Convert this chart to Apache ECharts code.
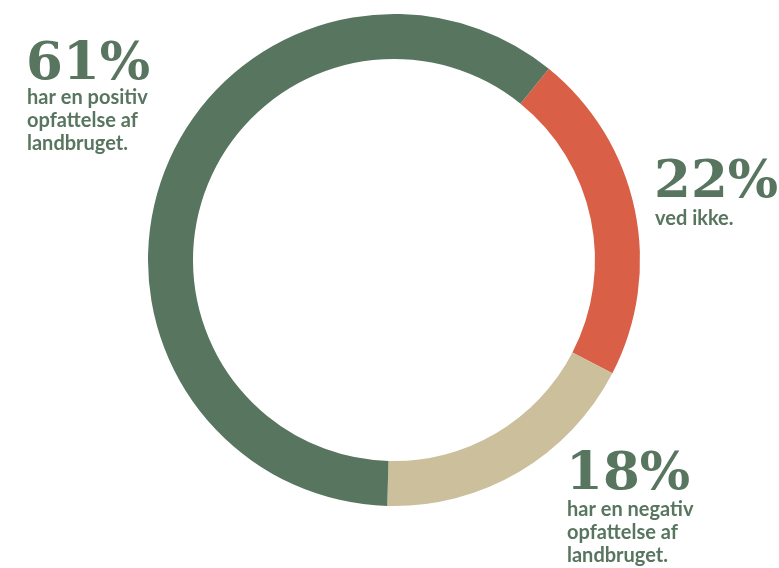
<!DOCTYPE html>
<html>
<head>
<meta charset="utf-8">
<script src="https://cdn.jsdelivr.net/npm/echarts@6/dist/echarts.min.js"></script>
<style>html,body{margin:0;padding:0;background:#fff}#c{width:779px;height:568px}</style>
</head>
<body>
<div id="c"></div>
<script>
var categories = ['ved ikke', 'negativ', 'positiv'];
var values = [22, 18, 61];
var colors = ['#d96047', '#cbbf9c', '#58755f'];
var descriptions = [
  'ved ikke.',
  'har en negativ\nopfattelse af\nlandbruget.',
  'har en positiv\nopfattelse af\nlandbruget.'
];

var chart = echarts.init(document.getElementById('c'));
var textColor = '#58755f';
function block(i, x, numBase, subBase) {
  return [
    { type: 'text', left: x, top: numBase - 43,
      style: { text: values[i] + '%', fill: textColor, font: 'bold 53px "DejaVu Serif"' } },
    { type: 'text', left: x + 1, top: subBase - 17,
      style: { text: descriptions[i], fill: textColor, font: 'bold 20px Lato', lineHeight: 23 } }
  ];
}
chart.setOption({
  animation: false,
  series: [{
    type: 'pie',
    center: [394, 260],
    radius: [201, 246],
    startAngle: 51,
    clockwise: true,
    label: { show: false },
    labelLine: { show: false },
    emphasis: { disabled: true },
    itemStyle: { borderWidth: 0 },
    data: categories.map(function (c, i) {
      return { name: c, value: values[i], itemStyle: { color: colors[i] } };
    })
  }],
  graphic: [].concat(block(2, 26, 82, 103), block(0, 654, 200, 224), block(1, 566, 492, 515))
});
</script>
</body>
</html>
